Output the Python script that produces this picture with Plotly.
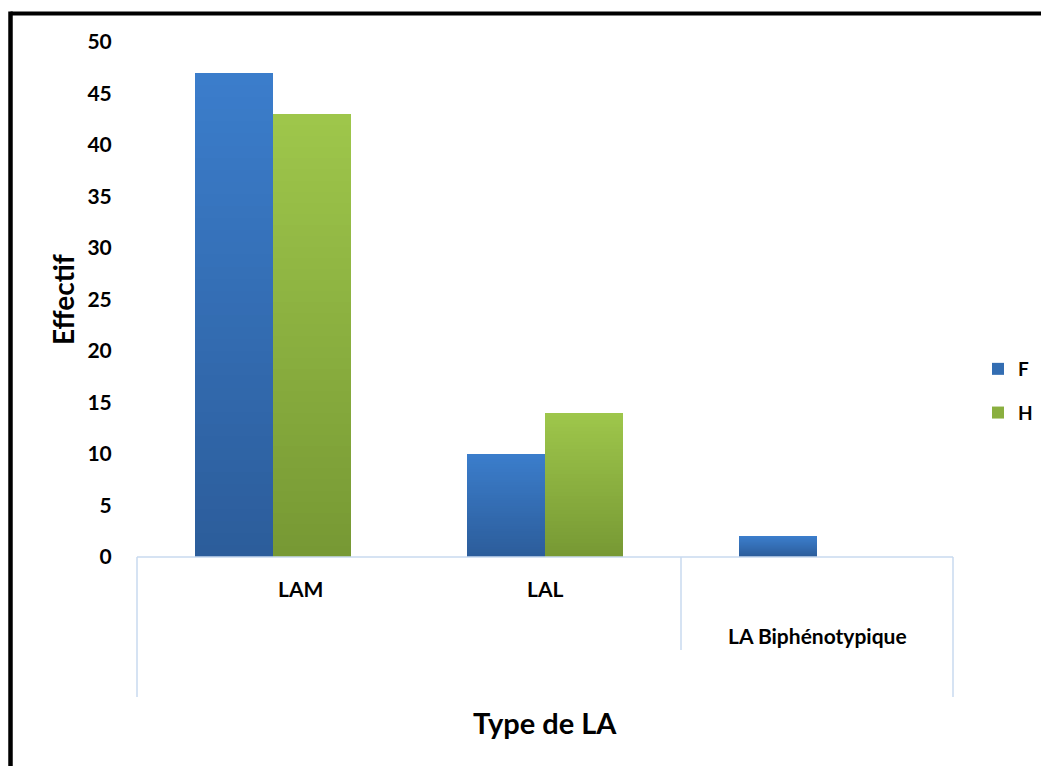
import plotly.graph_objects as go

# Effectifs par type de leucémie aiguë et par sexe
categories = ["LAM", "LAL", "LA Biphénotypique"]
series_names = ["F", "H"]
values_f = [47, 10, 2]
values_h = [43, 14, 0]
y_ticks = [0, 5, 10, 15, 20, 25, 30, 35, 40, 45, 50]

FONT = "Lato"
BAR_W = 0.287
STEPS = 40

# light (top) -> dark (bottom) colours of the vertical gradient
gradients = {
    "F": ((59, 125, 203), (44, 93, 155)),
    "H": ((158, 198, 75), (119, 153, 52)),
}


def mix(c1, c2, t):
    return "rgb({},{},{})".format(*[round(a + (b - a) * t) for a, b in zip(c1, c2)])


def py(pix):
    """vertical pixel position -> paper coordinate of the plot area"""
    return (557 - pix) / 515


def px(pix):
    """horizontal pixel position -> paper coordinate of the plot area"""
    return (pix - 137) / 816


fig = go.Figure()
xs = list(range(len(categories)))

for name, vals, offset in [("F", values_f, -BAR_W), ("H", values_h, 0.0)]:
    top, bottom = gradients[name]
    # overlapping bars, each shorter and darker, give a top-to-bottom gradient
    for k in range(STEPS):
        frac = 1 - k / STEPS
        fig.add_trace(go.Bar(
            x=xs,
            y=[v * frac for v in vals],
            width=BAR_W,
            offset=offset,
            marker=dict(color=mix(top, bottom, k / (STEPS - 1)), line=dict(width=0)),
            name=f"<b>{name}</b>",
            legendgroup=name,
            showlegend=(k == STEPS // 2),
            hoverinfo="skip",
        ))

# category labels under the axis
label_pos = [(0, 588, 27), (1, 588, 0), (2, 635, 0)]
for (i, ypix, xshift), lab in zip(label_pos, categories):
    fig.add_annotation(
        x=i, xref="x", y=py(ypix), yref="paper",
        text=f"<b>{lab}</b>", showarrow=False, xshift=xshift,
        font=dict(family=FONT, size=21, color="black"),
        xanchor="center", yanchor="middle",
    )

# axis titles
fig.add_annotation(x=0.5, xref="paper", y=py(722), yref="paper",
                   text="<b>Type de LA</b>", showarrow=False,
                   font=dict(family=FONT, size=29, color="black"),
                   xanchor="center", yanchor="middle")
fig.add_annotation(x=px(63), xref="paper", y=py(300), yref="paper",
                   text="<b>Effectif</b>", showarrow=False, textangle=-90,
                   font=dict(family=FONT, size=28, color="black"),
                   xanchor="center", yanchor="middle")

axis_col = "#c9daef"
# horizontal category axis and category frame lines
fig.add_shape(type="line", xref="paper", yref="paper", x0=0, x1=1, y0=0, y1=0,
              line=dict(color=axis_col, width=1.5))
for xp, ybot in [(0, 697), (1, 697), (px(681), 650)]:
    fig.add_shape(type="line", xref="paper", yref="paper", x0=xp, x1=xp,
                  y0=0, y1=py(ybot), line=dict(color=axis_col, width=1.5))

# outer black frame (top and left edges)
fig.add_shape(type="line", xref="paper", yref="paper",
              x0=px(10.5), x1=1.2, y0=py(13.5), y1=py(13.5),
              line=dict(color="black", width=4))
fig.add_shape(type="line", xref="paper", yref="paper",
              x0=px(10.5), x1=px(10.5), y0=py(11.5), y1=-0.5,
              line=dict(color="black", width=4.5))

fig.update_layout(
    width=1041, height=766,
    margin=dict(l=137, r=88, t=42, b=209, autoexpand=False),
    paper_bgcolor="white", plot_bgcolor="white",
    barmode="overlay",
    bargap=0,
    showlegend=True,
    legend=dict(
        x=px(978), xanchor="left",
        y=py(391), yanchor="middle",
        font=dict(family=FONT, size=19, color="black"),
        traceorder="grouped", tracegroupgap=16,
        itemwidth=30, bgcolor="rgba(0,0,0,0)",
    ),
    xaxis=dict(
        range=[-0.5, 2.5], showticklabels=False, showgrid=False,
        zeroline=False, showline=False, ticks="",
    ),
    yaxis=dict(
        range=[0, 50], tickvals=y_ticks, ticktext=[f"<b>{t}</b>" for t in y_ticks],
        tickfont=dict(family=FONT, size=21, color="black"),
        showgrid=False, zeroline=False, showline=False,
        ticks="outside", ticklen=20, tickcolor="rgba(0,0,0,0)",
    ),
)

fig.write_html("out.html")
